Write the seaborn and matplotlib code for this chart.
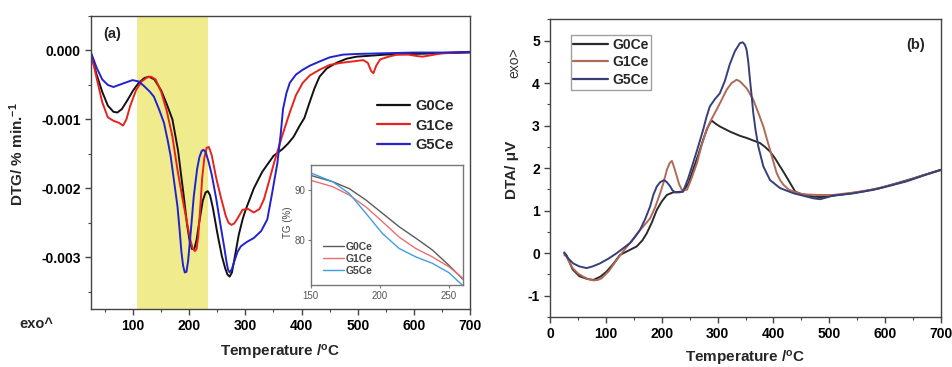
import numpy as np
import pandas as pd
import matplotlib
matplotlib.use("Agg")
import matplotlib.pyplot as plt
import seaborn as sns
from matplotlib.ticker import MultipleLocator, FormatStrFormatter
from matplotlib.lines import Line2D

# ---------------- data ----------------
samples = ["G0Ce", "G1Ce", "G5Ce"]

# (a) DTG  (% min^-1)
dtg_g0_t = [25, 30, 35, 45, 55, 65, 72, 80, 90, 100, 110, 120, 128, 138, 150, 160, 170, 180, 190, 196,
            201, 205, 209, 213, 218, 224, 229, 233, 237, 242, 250, 258, 264, 268, 272, 276, 281, 288,
            295, 300, 315, 330, 350, 366, 376, 386, 396, 405, 414, 423, 432, 445, 462, 480, 498, 550,
            600, 650, 700]
dtg_g0_v = [-0.00006, -0.00020, -0.00035, -0.00060, -0.00080, -0.00089, -0.00090, -0.00085, -0.00072,
            -0.00058, -0.00047, -0.00040, -0.00038, -0.00042, -0.00058, -0.00078, -0.00100, -0.00145,
            -0.00210, -0.00252, -0.00278, -0.00288, -0.00288, -0.00275, -0.00248, -0.00218, -0.00206,
            -0.00204, -0.00210, -0.00228, -0.00265, -0.00298, -0.00316, -0.00325, -0.00328, -0.00322,
            -0.00300, -0.00268, -0.00245, -0.00232, -0.00200, -0.00176, -0.00153, -0.00143, -0.00135,
            -0.00125, -0.00110, -0.00098, -0.00076, -0.00055, -0.00038, -0.00026, -0.00018, -0.00012,
            -0.00009, -0.00006, -0.00005, -0.00004, -0.00003]

dtg_g1_t = [25, 30, 35, 45, 55, 65, 75, 82, 88, 95, 105, 115, 125, 132, 140, 150, 160, 170, 179, 188,
            196, 202, 206, 210, 213, 216, 219, 223, 227, 231, 235, 240, 248, 256, 265, 270, 275, 280,
            285, 295, 305, 315, 325, 333, 342, 351, 365, 379, 390, 402, 415, 432, 450, 470, 490, 510,
            518, 524, 528, 533, 540, 555, 570, 590, 605, 615, 630, 650, 700]
dtg_g1_v = [-0.00008, -0.00022, -0.00040, -0.00075, -0.00097, -0.00102, -0.00105, -0.00109, -0.00100,
            -0.00080, -0.00058, -0.00045, -0.00039, -0.00038, -0.00042, -0.00060, -0.00088, -0.00125,
            -0.00173, -0.00215, -0.00250, -0.00275, -0.00287, -0.00291, -0.00288, -0.00270, -0.00235,
            -0.00185, -0.00155, -0.00141, -0.00140, -0.00152, -0.00185, -0.00212, -0.00240, -0.00250,
            -0.00253, -0.00251, -0.00245, -0.00231, -0.00230, -0.00235, -0.00230, -0.00216, -0.00190,
            -0.00163, -0.00125, -0.00090, -0.00065, -0.00047, -0.00036, -0.00028, -0.00021, -0.00018,
            -0.00016, -0.00014, -0.00018, -0.00030, -0.00033, -0.00022, -0.00013, -0.00009, -0.00006,
            -0.00006, -0.00008, -0.00009, -0.00007, -0.00004, -0.00002]

dtg_g5_t = [25, 30, 35, 45, 55, 65, 75, 85, 99, 110, 120, 130, 137, 146, 155, 162, 167, 173, 179, 183,
            186, 189, 192, 195, 198, 203, 208, 214, 218, 222, 225, 229, 234, 240, 248, 256, 262, 266,
            269, 272, 276, 281, 286, 292, 302, 315, 328, 339, 348, 357, 363, 367, 373, 379, 390, 402,
            415, 432, 450, 474, 500, 550, 600, 650, 700]
dtg_g5_v = [-0.00003, -0.00014, -0.00025, -0.00042, -0.00050, -0.00053, -0.00050, -0.00047, -0.00043,
            -0.00045, -0.00052, -0.00060, -0.00067, -0.00085, -0.00105, -0.00132, -0.00154, -0.00190,
            -0.00226, -0.00262, -0.00292, -0.00312, -0.00322, -0.00321, -0.00305, -0.00260, -0.00212,
            -0.00172, -0.00155, -0.00146, -0.00144, -0.00147, -0.00160, -0.00180, -0.00215, -0.00255,
            -0.00284, -0.00305, -0.00318, -0.00322, -0.00317, -0.00304, -0.00292, -0.00284, -0.00278,
            -0.00272, -0.00262, -0.00245, -0.00205, -0.00163, -0.00120, -0.00085, -0.00062, -0.00047,
            -0.00035, -0.00028, -0.00022, -0.00016, -0.00010, -0.00006, -0.00005, -0.00004, -0.00003,
            -0.00003, -0.00002]

# inset TG (%)
tg_t = [150, 166, 178, 190, 202, 214, 226, 238, 250, 260]
tg_g0 = [93.0, 91.7, 90.3, 88.0, 85.3, 82.6, 80.3, 77.9, 74.8, 72.0]
tg_g1 = [92.0, 90.7, 89.0, 86.6, 83.6, 80.5, 78.2, 76.5, 74.5, 72.2]
tg_g5 = [93.5, 91.7, 89.3, 85.3, 81.2, 78.2, 76.5, 75.2, 73.3, 70.7]

# (b) DTA (uV)
dta_g0_t = [25, 29, 40, 52, 65, 77, 90, 101, 113, 125, 137, 155, 165, 173, 182, 191, 200, 209, 220, 238,
            248, 256, 265, 274, 282, 289, 297, 304, 322, 340, 352, 364, 376, 385, 394, 403, 412, 421,
            430, 439, 450, 460, 471, 485, 501, 531, 560, 591, 620, 651, 680, 700]
dta_g0_v = [0.0, -0.05, -0.38, -0.54, -0.60, -0.63, -0.55, -0.43, -0.25, -0.04, 0.04, 0.16, 0.30, 0.47,
            0.72, 1.02, 1.22, 1.37, 1.43, 1.45, 1.65, 1.96, 2.30, 2.67, 2.95, 3.12, 3.04, 2.98, 2.86,
            2.76, 2.71, 2.65, 2.59, 2.50, 2.39, 2.23, 2.04, 1.85, 1.65, 1.45, 1.39, 1.37, 1.33, 1.32,
            1.34, 1.395, 1.45, 1.53, 1.64, 1.76, 1.88, 1.96]

dta_g1_t = [25, 29, 40, 50, 59, 68, 77, 85, 92, 105, 119, 131, 143, 152, 161, 170, 179, 188, 197, 203,
            209, 214, 218, 222, 227, 231, 236, 245, 253, 263, 271, 280, 289, 298, 307, 316, 325, 334,
            340, 352, 364, 373, 382, 388, 394, 400, 406, 412, 418, 427, 436, 448, 460, 480, 507, 540,
            579, 610, 639, 670, 700]
dta_g1_v = [-0.04, -0.08, -0.35, -0.48, -0.55, -0.61, -0.64, -0.63, -0.59, -0.42, -0.16, 0.05, 0.24,
            0.40, 0.55, 0.68, 0.82, 1.08, 1.41, 1.66, 1.96, 2.12, 2.17, 2.02, 1.80, 1.62, 1.49, 1.49,
            1.75, 2.12, 2.52, 2.90, 3.15, 3.37, 3.60, 3.84, 4.00, 4.08, 4.04, 3.88, 3.61, 3.30, 2.98,
            2.70, 2.43, 2.15, 1.88, 1.72, 1.61, 1.50, 1.45, 1.40, 1.38, 1.37, 1.37, 1.42, 1.50, 1.60,
            1.70, 1.84, 1.95]

dta_g5_t = [25, 32, 41, 52, 65, 76, 89, 104, 119, 131, 143, 152, 161, 170, 179, 185, 191, 197, 204, 209,
            215, 219, 224, 231, 238, 247, 256, 265, 274, 280, 286, 295, 304, 313, 322, 331, 340, 345,
            349, 352, 355, 358, 361, 364, 368, 373, 382, 394, 412, 436, 460, 472, 484, 495, 507, 540,
            579, 610, 639, 670, 700]
dta_g5_v = [0.02, -0.12, -0.24, -0.31, -0.35, -0.31, -0.24, -0.13, 0.0, 0.12, 0.24, 0.38, 0.55, 0.80,
            1.10, 1.38, 1.57, 1.67, 1.72, 1.67, 1.57, 1.48, 1.43, 1.43, 1.45, 1.75, 2.12, 2.50, 2.90,
            3.20, 3.45, 3.62, 3.76, 4.05, 4.45, 4.75, 4.94, 4.96, 4.90, 4.78, 4.50, 4.08, 3.70, 3.29,
            2.90, 2.51, 2.04, 1.72, 1.53, 1.41, 1.33, 1.29, 1.27, 1.31, 1.355, 1.40, 1.49, 1.59, 1.69,
            1.83, 1.96]

dtg_colors = ["#111111", "#e8231e", "#2222d0"]
tg_colors = ["#5a5a5a", "#e87070", "#3f9ee0"]
dta_colors = ["#2a2a2a", "#b06a58", "#363f78"]


def long_df(ts, vs):
    frames = [pd.DataFrame({"T": t, "v": v, "sample": s}) for s, t, v in zip(samples, ts, vs)]
    return pd.concat(frames, ignore_index=True)


df_dtg = long_df([dtg_g0_t, dtg_g1_t, dtg_g5_t], [dtg_g0_v, dtg_g1_v, dtg_g5_v])
df_tg = long_df([tg_t, tg_t, tg_t], [tg_g0, tg_g1, tg_g5])
df_dta = long_df([dta_g0_t, dta_g1_t, dta_g5_t], [dta_g0_v, dta_g1_v, dta_g5_v])

# ---------------- style ----------------
sns.set_style("ticks")
plt.rcParams["font.family"] = ["Liberation Sans", "DejaVu Sans"]
plt.rcParams["font.weight"] = "bold"
plt.rcParams["mathtext.fontset"] = "custom"
plt.rcParams["mathtext.rm"] = "Liberation Sans:bold"
plt.rcParams["mathtext.bf"] = "Liberation Sans:bold"
plt.rcParams["mathtext.it"] = "Liberation Sans:bold"
plt.rcParams["axes.unicode_minus"] = False
plt.rcParams["lines.solid_joinstyle"] = "round"

W, H = 952, 367
fig = plt.figure(figsize=(W / 100, H / 100), dpi=100)


def px_axes(l, t, r, b):
    return fig.add_axes([l / W, 1 - b / H, (r - l) / W, (b - t) / H])


spine_col = "#444444"


def style_axes(ax, lw=1.0):
    for s in ax.spines.values():
        s.set_color(spine_col)
        s.set_linewidth(lw)
    ax.tick_params(which="both", direction="out", colors=spine_col, labelcolor="black",
                   top=False, right=False)
    ax.tick_params(which="major", length=4, width=1.0, labelsize=10)
    ax.tick_params(which="minor", length=2.2, width=0.8)
    for lab in ax.get_xticklabels() + ax.get_yticklabels():
        lab.set_fontweight("bold")


# ---------------- panel (a) ----------------
axa = px_axes(91, 16, 470, 309)
axa.axvspan(107, 233, color="#f0ec8e", lw=0, zorder=0)
sns.lineplot(data=df_dtg, x="T", y="v", hue="sample", hue_order=samples, palette=dtg_colors,
             estimator=None, sort=False, linewidth=1.4, legend=False, ax=axa)
axa.set_xlim(25, 700)
axa.set_ylim(-0.00375, 0.0005)
axa.xaxis.set_major_locator(MultipleLocator(100))
axa.xaxis.set_minor_locator(MultipleLocator(50))
axa.yaxis.set_major_locator(MultipleLocator(0.001))
axa.yaxis.set_minor_locator(MultipleLocator(0.0005))
axa.yaxis.set_major_formatter(FormatStrFormatter("%.3f"))
axa.xaxis.set_major_formatter(FormatStrFormatter("%d"))
axa.set_xticks([100, 200, 300, 400, 500, 600, 700])
style_axes(axa)
axa.set_xlabel(r"Temperature /$^{\mathrm{o}}$C", fontsize=11, fontweight="bold")
axa.set_ylabel(r"DTG/ % min.$^{-1}$", fontsize=11, fontweight="bold")
axa.xaxis.set_label_coords(0.5, -0.115)
axa.yaxis.set_label_coords(-0.172, 0.53)
axa.text(0.055, 0.94, "(a)", transform=axa.transAxes, fontsize=10.5, fontweight="bold",
         ha="center", va="center")
fig.text(36.5 / W, 1 - 324 / H, "exo^", fontsize=10.5, fontweight="bold", ha="center", va="center")

handles_a = [Line2D([], [], color=c, lw=1.6) for c in dtg_colors]
axa.legend(handles_a, samples, loc="center left", bbox_to_anchor=(0.754, 0.626), frameon=False,
           prop={"size": 10.5, "weight": "bold"}, handlelength=2.3, handletextpad=0.35,
           labelspacing=0.35, borderpad=0, borderaxespad=0)

# inset
axi = px_axes(310.7, 165, 462.7, 285)
sns.lineplot(data=df_tg, x="T", y="v", hue="sample", hue_order=samples, palette=tg_colors,
             estimator=None, sort=False, linewidth=1.0, legend=False, ax=axi)
axi.set_xlim(150, 260)
axi.set_ylim(70.8, 95.1)
axi.set_xticks([150, 200, 250])
axi.set_yticks([80, 90])
for s in axi.spines.values():
    s.set_color("#777777")
    s.set_linewidth(1.0)
axi.tick_params(direction="out", length=2.5, width=0.8, colors="#777777", labelcolor="#555555",
                labelsize=7, pad=1.5)
for lab in axi.get_xticklabels() + axi.get_yticklabels():
    lab.set_fontweight("normal")
axi.set_xlabel("")
axi.set_ylabel("TG (%)", fontsize=7, fontweight="normal", color="#444444")
axi.yaxis.set_label_coords(-0.116, 0.527)
handles_i = [Line2D([], [], color=c, lw=1.0) for c in tg_colors]
legi = axi.legend(handles_i, samples, loc="center left", bbox_to_anchor=(0.079, 0.219), frameon=False,
                  prop={"size": 7.5, "weight": "bold"}, handlelength=2.0, handletextpad=0.2,
                  labelspacing=0.2, borderpad=0, borderaxespad=0)
for t in legi.get_texts():
    t.set_color("#444444")

# ---------------- panel (b) ----------------
axb = px_axes(550.3, 19.3, 940.7, 317)
sns.lineplot(data=df_dta, x="T", y="v", hue="sample", hue_order=samples, palette=dta_colors,
             estimator=None, sort=False, linewidth=1.4, legend=False, ax=axb)
axb.set_xlim(0, 700)
axb.set_ylim(-1.5, 5.5)
axb.xaxis.set_major_locator(MultipleLocator(100))
axb.xaxis.set_minor_locator(MultipleLocator(50))
axb.yaxis.set_major_locator(MultipleLocator(1))
axb.yaxis.set_minor_locator(MultipleLocator(0.5))
axb.yaxis.set_major_formatter(FormatStrFormatter("%d"))
axb.xaxis.set_major_formatter(FormatStrFormatter("%d"))
style_axes(axb)
axb.set_xlabel(r"Temperature /$^{\mathrm{o}}$C", fontsize=11, fontweight="bold")
axb.set_ylabel("DTA/ μV", fontsize=11, fontweight="bold")
axb.xaxis.set_label_coords(0.5, -0.108)
axb.yaxis.set_label_coords(-0.080, 0.494)
axb.text(0.936, 0.915, "(b)", transform=axb.transAxes, fontsize=10.5, fontweight="bold",
         ha="center", va="center")
fig.text(514 / W, 1 - 63 / H, "exo>", fontsize=10, fontweight="normal", rotation=90,
         ha="center", va="center", color="#333333")

handles_b = [Line2D([], [], color=c, lw=1.6) for c in dta_colors]
legb = axb.legend(handles_b, samples, loc="upper left", bbox_to_anchor=(0.052, 0.947), frameon=True,
                  fancybox=False, prop={"size": 10, "weight": "bold"}, handlelength=2.5,
                  handletextpad=0.3, labelspacing=0.25, borderpad=0.2, borderaxespad=0)
legb.get_frame().set_edgecolor("#888888")
legb.get_frame().set_linewidth(1.0)

fig.savefig("out.png", dpi=100)
